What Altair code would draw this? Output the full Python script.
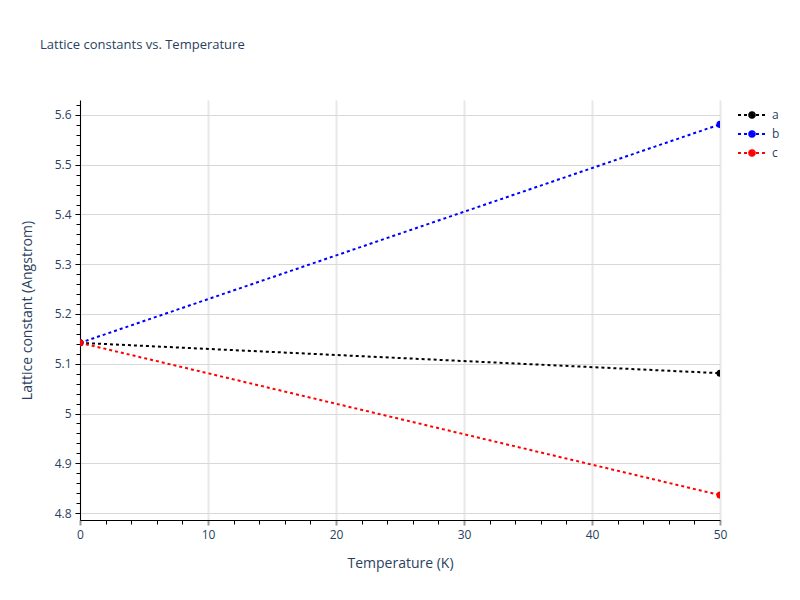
import math
import altair as alt
import pandas as pd

temperature = [0, 50]
lattice_a = [5.142, 5.081]
lattice_b = [5.142, 5.581]
lattice_c = [5.142, 4.836]
series_names = ["a", "b", "c"]
series_colors = ["black", "blue", "red"]

x_major = [0, 10, 20, 30, 40, 50]
x_minor = [v for v in range(0, 51, 2) if v % 10 != 0]
y_major = [4.8, 4.9, 5.0, 5.1, 5.2, 5.3, 5.4, 5.5, 5.6]
y_minor = [round(4.8 + 0.02 * i, 2) for i in range(-1, 42) if i % 5 != 0]

rows = []
for name, vals in zip(series_names, [lattice_a, lattice_b, lattice_c]):
    for t, v in zip(temperature, vals):
        rows.append({"T": t, "L": v, "series": name})
df = pd.DataFrame(rows)

FONT = "Open Sans"
TXT = "#2a3f5f"


# legend symbol: dotted line with a solid dot (unit = 7px)
def _legend_symbol():
    n = 10
    ring, inner = 3.0 / 7, 2.2 / 7
    parts = ["M-2,0L2,0"]
    pts = [(ring * math.cos(2 * math.pi * i / n), ring * math.sin(2 * math.pi * i / n)) for i in range(n + 1)]
    for i in range(n):
        parts.append("M%.4f,%.4fL%.4f,%.4f" % (pts[i][0], pts[i][1], pts[i + 1][0], pts[i + 1][1]))
    ipts = [(inner * math.cos(2 * math.pi * i / n), inner * math.sin(2 * math.pi * i / n)) for i in range(n)]
    parts.append("M" + "L".join("%.4f,%.4f" % p for p in ipts) + "Z")
    return "".join(parts)


xscale = alt.Scale(domain=[0, 50], nice=False, zero=False)
yscale = alt.Scale(domain=[4.786, 5.630], nice=False, zero=False)

color = alt.Color(
    "series:N",
    scale=alt.Scale(domain=series_names, range=series_colors),
    legend=alt.Legend(
        title=None,
        orient="none",
        legendX=664,
        legendY=7,
        padding=0,
        symbolType=_legend_symbol(),
        symbolSize=196,
        symbolStrokeWidth=2,
        symbolDash=[3, 3],
        labelOffset=12,
        rowPadding=4,
        labelFont=FONT,
        labelFontSize=12,
        labelColor=TXT,
    ),
)

lines = alt.Chart(df).mark_line(strokeDash=[3, 3], strokeWidth=2, clip=True).encode(
    x=alt.X(
        "T:Q",
        scale=xscale,
        axis=alt.Axis(
            orient="bottom",
            values=x_major,
            title="Temperature (K)",
            titleFont=FONT,
            titleFontSize=14,
            titleFontWeight="normal",
            titleColor=TXT,
            titlePadding=16,
            labelFont=FONT,
            labelFontSize=12,
            labelColor=TXT,
            labelPadding=4,
            labelFlush=False,
            tickColor="#999999",
            tickWidth=2,
            tickSize=5,
            domainColor="black",
            domainWidth=1,
            grid=True,
            gridColor="#e8e8e8",
            gridWidth=2,
        ),
    ),
    y=alt.Y(
        "L:Q",
        scale=yscale,
        axis=alt.Axis(
            orient="left",
            values=y_major,
            format="~g",
            title="Lattice constant (Angstrom)",
            titleFont=FONT,
            titleFontSize=14,
            titleFontWeight="normal",
            titleColor=TXT,
            titlePadding=20,
            labelFont=FONT,
            labelFontSize=12,
            labelColor=TXT,
            labelPadding=4,
            labelFlush=False,
            tickColor="black",
            tickWidth=1,
            tickSize=5,
            domainColor="black",
            domainWidth=1,
            grid=True,
            gridColor="#d8d8d8",
            gridWidth=1,
        ),
    ),
    color=color,
)

points = alt.Chart(df).mark_point(filled=True, size=50, opacity=1, clip=True).encode(
    x=alt.X(
        "T:Q",
        scale=xscale,
        axis=alt.Axis(
            orient="bottom",
            values=x_minor,
            title=None,
            labels=False,
            grid=False,
            domain=False,
            tickColor="black",
            tickSize=4,
            tickWidth=1,
        ),
    ),
    y=alt.Y(
        "L:Q",
        scale=yscale,
        axis=alt.Axis(
            orient="left",
            values=y_minor,
            title=None,
            labels=False,
            grid=False,
            domain=False,
            tickColor="black",
            tickSize=4,
            tickWidth=1,
        ),
    ),
    color=color,
)

chart = (
    alt.layer(lines, points)
    .resolve_axis(x="independent", y="independent")
    .properties(
        width=640,
        height=420,
        autosize=alt.AutoSizeParams(type="none"),
        padding={"left": 72, "top": 92, "right": 64, "bottom": 60},
        title=alt.TitleParams(
            "Lattice constants vs. Temperature",
            anchor="start",
            frame="group",
            dx=-40,
            offset=48,
            font=FONT,
            fontSize=13,
            fontWeight="normal",
            color=TXT,
        ),
    )
    .configure_view(stroke=None)
)

chart.save("out.html", embed_options={"renderer": "svg", "actions": False})
